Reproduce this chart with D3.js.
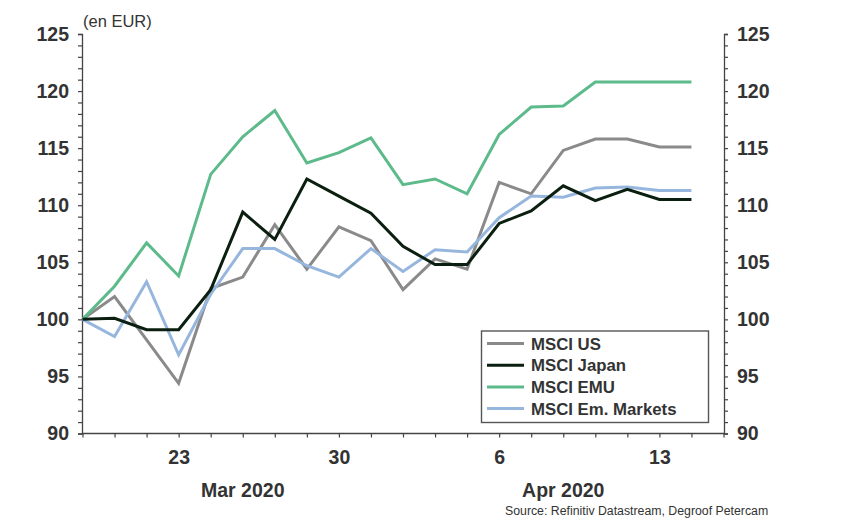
<!DOCTYPE html>
<html>
<head>
<meta charset="utf-8">
<script src="https://cdn.jsdelivr.net/npm/d3@7"></script>
<style>
  body { margin: 0; background: #fff; }
  text { font-family: "Liberation Sans", Arial, sans-serif; fill: #333; }
</style>
</head>
<body>
<svg id="chart"></svg>
<script>
// business days shown on the x axis (last one is only axis room)
let days = ['2020-03-18','2020-03-19','2020-03-20','2020-03-23','2020-03-24','2020-03-25','2020-03-26','2020-03-27',
            '2020-03-30','2020-03-31','2020-04-01','2020-04-02','2020-04-03','2020-04-06','2020-04-07','2020-04-08',
            '2020-04-09','2020-04-10','2020-04-13','2020-04-14','2020-04-15']

let msciUS    = [100, 102.0, 98.2, 94.4, 102.7, 103.7, 108.3, 104.4, 108.1, 106.9, 102.6, 105.3, 104.4, 112.0, 111.0, 114.8, 115.8, 115.8, 115.1, 115.1]
let msciJapan = [100, 100.1, 99.1, 99.1, 102.6, 109.4, 107.0, 112.3, 110.8, 109.3, 106.4, 104.8, 104.8, 108.4, 109.5, 111.7, 110.4, 111.4, 110.5, 110.5]
let msciEMU   = [100, 102.9, 106.7, 103.8, 112.7, 116.0, 118.3, 113.7, 114.6, 115.9, 111.8, 112.3, 111.0, 116.2, 118.6, 118.7, 120.8, 120.8, 120.8, 120.8]
let msciEM    = [100, 98.5, 103.3, 96.9, 102.2, 106.2, 106.2, 104.7, 103.7, 106.2, 104.2, 106.1, 105.9, 108.9, 110.8, 110.7, 111.5, 111.6, 111.3, 111.3]

let seriesNames = ['MSCI US', 'MSCI Japan', 'MSCI EMU', 'MSCI Em. Markets']
let monthLabels = ['Mar 2020', 'Apr 2020']
let monthAt = ['2020-03-25', '2020-04-08']

let width = 847
let height = 531
let plotLeft = 82
let plotRight = 724
let plotTop = 34
let plotBottom = 433.5

let svg = d3.select('#chart').attr('width', width).attr('height', height)

let parse = d3.timeParse('%Y-%m-%d')
let xScale = d3.scaleLinear().domain([0, days.length - 1]).range([plotLeft + 0.5, plotRight - 0.5])
let yScale = d3.scaleLinear().domain([90, 125]).range([plotBottom, plotTop])

let yTicks = d3.range(90, 126, 1)
let fmtY = d => d % 5 === 0 ? d : ''

let yLeft = d3.axisLeft(yScale).tickValues(yTicks).tickFormat(fmtY).tickSize(4).tickPadding(9)
let yRight = d3.axisRight(yScale).tickValues(yTicks).tickFormat(fmtY).tickSize(4).tickPadding(9)
let xAxis = d3.axisBottom(xScale).tickValues(d3.range(0, days.length)).tickSize(4).tickPadding(13)
  .tickFormat(i => {
    let d = parse(days[i])
    return d.getDay() === 1 ? d.getDate() : ''
  })

let styleAxis = g => {
  g.select('.domain').attr('stroke', '#444').attr('stroke-width', 1.3)
  g.selectAll('.tick line').attr('stroke', '#444').attr('stroke-width', 1.2)
  g.selectAll('.tick text').style('font-size', '19.5px').style('font-weight', 'bold')
    .style('font-family', '"Liberation Sans", Arial, sans-serif').attr('fill', '#333')
}

svg.append('g').attr('transform', 'translate(' + plotLeft + ',0)').call(yLeft).call(styleAxis)
svg.append('g').attr('transform', 'translate(' + plotRight + ',0)').call(yRight).call(styleAxis)
svg.append('g').attr('transform', 'translate(0,' + plotBottom + ')').call(xAxis).call(styleAxis)
  .call(g => g.select('.domain').attr('d', 'M' + plotLeft + ',0H' + plotRight))

monthLabels.forEach((m, i) => {
  svg.append('text')
    .attr('x', xScale(days.indexOf(monthAt[i])))
    .attr('y', 497)
    .attr('text-anchor', 'middle')
    .style('font-size', '19.5px').style('font-weight', 'bold')
    .text(m)
})

svg.append('text').attr('x', 83).attr('y', 27).style('font-size', '16.5px').text('(en EUR)')

svg.append('text').attr('x', 505).attr('y', 515).style('font-size', '12.3px')
  .text('Source: Refinitiv Datastream, Degroof Petercam')

let colors = ['#8a8a8a', '#0b1f10', '#5dba8b', '#97b6de']
let allSeries = [msciUS, msciJapan, msciEMU, msciEM]

let line = d3.line().x((d, i) => xScale(i)).y(d => yScale(d))

// japan drawn last so it sits on top
let order = [0, 2, 3, 1]
order.forEach(k => {
  svg.append('path')
    .datum(allSeries[k])
    .attr('fill', 'none')
    .attr('stroke', colors[k])
    .attr('stroke-width', 3)
    .attr('stroke-linejoin', 'miter')
    .attr('d', line)
})

// legend
let legend = svg.append('g')
legend.append('rect')
  .attr('x', 481.5).attr('y', 331).attr('width', 227).attr('height', 91.5)
  .attr('fill', '#fff').attr('stroke', '#555').attr('stroke-width', 1.4)

seriesNames.forEach((name, i) => {
  let y = 343.5 + i * 21.7
  legend.append('line')
    .attr('x1', 487).attr('x2', 524).attr('y1', y).attr('y2', y)
    .attr('stroke', colors[i]).attr('stroke-width', 3)
  legend.append('text')
    .attr('x', 531).attr('y', y + 6)
    .style('font-size', '16.8px').style('font-weight', 'bold')
    .text(name)
})
</script>
</body>
</html>
